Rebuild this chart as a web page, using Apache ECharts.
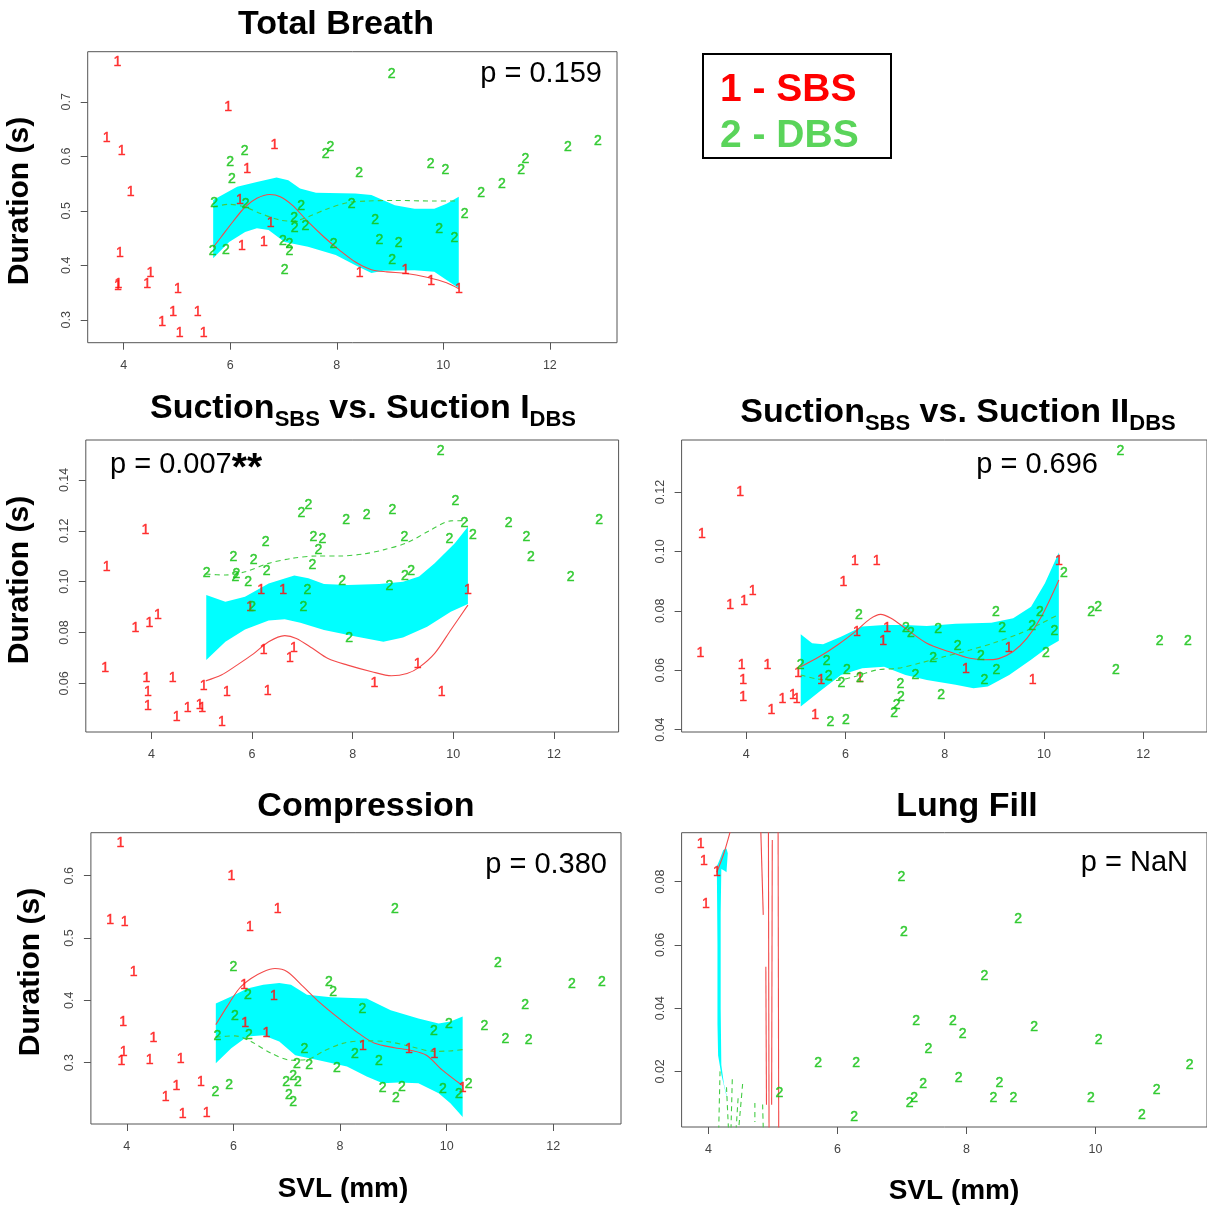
<!DOCTYPE html>
<html><head><meta charset="utf-8">
<script src="https://cdn.jsdelivr.net/npm/echarts@6/dist/echarts.min.js"></script>
<style>html,body{margin:0;padding:0;background:#fff}#c{width:1207px;height:1207px}</style>
</head><body><div id="c"></div>
<script>
// ---------- Total Breath ----------
const tbSBS = [[3.88,0.772],[5.96,0.690],[3.68,0.634],[3.96,0.609],[6.83,0.620],[6.32,0.576],[4.13,0.534],[6.18,0.519],[6.76,0.477],[3.93,0.422],[6.22,0.436],[6.63,0.443],[4.50,0.386],[3.90,0.366],[3.89,0.362],[4.44,0.366],[5.02,0.356],[4.93,0.314],[5.39,0.314],[4.72,0.296],[5.05,0.276],[5.50,0.275],[8.43,0.386],[9.29,0.391],[9.77,0.371],[10.29,0.357]];
const tbDBS = [[9.03,0.750],[6.27,0.609],[6.00,0.590],[6.03,0.558],[7.88,0.616],[7.79,0.604],[8.42,0.569],[9.76,0.586],[10.04,0.575],[12.90,0.628],[12.34,0.616],[11.54,0.595],[11.46,0.575],[11.10,0.549],[10.71,0.533],[10.40,0.494],[5.70,0.515],[6.29,0.513],[7.33,0.509],[8.28,0.512],[7.20,0.486],[7.21,0.469],[7.41,0.472],[8.72,0.482],[9.92,0.467],[5.67,0.426],[5.92,0.427],[6.99,0.444],[7.11,0.439],[7.11,0.426],[7.94,0.439],[8.80,0.447],[9.16,0.441],[10.21,0.449],[9.04,0.409],[7.02,0.391]];
const tbSbsFit = [[5.68,0.433],[5.83,0.452],[6.05,0.480],[6.28,0.507],[6.50,0.523],[6.74,0.530],[6.94,0.526],[7.17,0.510],[7.46,0.480],[7.76,0.452],[8.05,0.428],[8.35,0.406],[8.65,0.392],[8.94,0.388],[9.31,0.385],[9.69,0.378],[10.06,0.368],[10.29,0.357]];
const tbDbsFit = [[5.68,0.507],[5.98,0.512],[6.28,0.507],[6.57,0.495],[6.94,0.483],[7.17,0.481],[7.46,0.489],[7.83,0.504],[8.20,0.515],[8.57,0.518],[9.09,0.519],[9.83,0.518],[10.28,0.518]];
const tbBandUpper = [[5.68,0.520],[6.13,0.544],[6.50,0.553],[6.87,0.561],[7.09,0.556],[7.31,0.541],[7.61,0.533],[8.35,0.532],[8.65,0.529],[9.09,0.510],[9.46,0.504],[9.83,0.504],[10.06,0.513],[10.29,0.526]];
const tbBandLower = [[5.68,0.413],[5.98,0.443],[6.28,0.461],[6.50,0.468],[6.72,0.465],[7.02,0.443],[7.46,0.434],[7.98,0.419],[8.35,0.400],[8.65,0.386],[8.87,0.390],[9.46,0.391],[9.83,0.388],[10.06,0.373],[10.29,0.358]];

// ---------- Suction SBS vs Suction I DBS ----------
const s1SBS = [[3.88,0.1201],[3.11,0.1059],[3.68,0.0819],[3.96,0.0836],[4.13,0.0869],[3.08,0.0660],[3.90,0.0620],[4.42,0.0620],[3.93,0.0565],[3.93,0.0510],[5.04,0.0590],[5.50,0.0565],[6.31,0.0571],[4.50,0.0469],[4.72,0.0502],[4.96,0.0515],[5.01,0.0502],[5.40,0.0449],[6.18,0.0966],[6.62,0.0966],[5.96,0.0899],[6.23,0.0730],[6.83,0.0738],[6.75,0.0701],[8.43,0.0600],[9.29,0.0675],[9.77,0.0565],[10.29,0.0966]];
const s1DBS = [[9.75,0.1514],[10.04,0.1317],[7.12,0.1299],[6.98,0.1271],[7.87,0.1241],[8.28,0.1261],[8.79,0.1283],[10.22,0.1230],[11.10,0.1230],[12.90,0.1240],[10.39,0.1184],[11.45,0.1177],[11.54,0.1098],[12.33,0.1018],[9.92,0.1167],[9.03,0.1177],[7.22,0.1177],[7.40,0.1169],[7.32,0.1125],[6.27,0.1156],[5.63,0.1098],[6.03,0.1083],[7.20,0.1066],[6.29,0.1042],[5.10,0.1033],[5.69,0.1029],[5.67,0.1016],[5.92,0.1000],[9.16,0.1043],[9.04,0.1020],[7.79,0.1003],[7.10,0.0967],[8.73,0.0983],[6.00,0.0898],[7.02,0.0898],[7.93,0.0777]];
const s1SbsFit = [[5.08,0.0610],[5.39,0.0633],[5.70,0.0672],[6.02,0.0715],[6.33,0.0764],[6.65,0.0788],[6.88,0.0777],[7.20,0.0738],[7.51,0.0698],[7.90,0.0672],[8.38,0.0646],[8.77,0.0630],[9.08,0.0639],[9.32,0.0663],[9.63,0.0718],[9.95,0.0810],[10.29,0.0908]];
const s1DbsFit = [[5.08,0.1030],[5.47,0.1026],[5.86,0.1039],[6.33,0.1072],[6.80,0.1092],[7.28,0.1101],[7.75,0.1101],[8.22,0.1109],[8.61,0.1125],[9.08,0.1153],[9.55,0.1203],[9.95,0.1239],[10.29,0.1240]];
const s1BandUpper = [[5.09,0.0948],[5.47,0.0921],[5.86,0.0941],[6.33,0.0993],[6.84,0.1024],[7.12,0.1013],[7.43,0.0991],[7.90,0.0987],[8.53,0.0991],[9.00,0.1000],[9.32,0.1020],[9.63,0.1072],[10.03,0.1151],[10.29,0.1216]];
const s1BandLower = [[5.09,0.0692],[5.47,0.0764],[5.86,0.0812],[6.33,0.0847],[6.65,0.0852],[6.96,0.0839],[7.43,0.0810],[8.06,0.0784],[8.61,0.0764],[9.00,0.0781],[9.48,0.0823],[9.95,0.0882],[10.29,0.0912]];

// ---------- Suction SBS vs Suction II DBS ----------
const s2SBS = [[3.88,0.1200],[3.11,0.1059],[3.68,0.0820],[3.96,0.0833],[4.13,0.0867],[3.08,0.0659],[3.91,0.0617],[4.43,0.0617],[3.94,0.0567],[3.94,0.0509],[4.51,0.0466],[4.73,0.0502],[4.94,0.0517],[5.02,0.0502],[5.05,0.0590],[5.39,0.0450],[5.51,0.0567],[6.19,0.0968],[6.63,0.0968],[5.96,0.0898],[6.23,0.0728],[6.84,0.0740],[6.76,0.0699],[6.29,0.0573],[8.43,0.0603],[9.29,0.0673],[9.77,0.0567],[10.30,0.0968]];
const s2DBS = [[11.54,0.1338],[10.40,0.0926],[10.95,0.0797],[11.09,0.0814],[12.33,0.0698],[12.90,0.0698],[11.45,0.0600],[9.03,0.0797],[9.92,0.0797],[9.16,0.0741],[9.76,0.0747],[10.21,0.0731],[10.04,0.0658],[6.27,0.0784],[7.22,0.0740],[7.32,0.0724],[7.87,0.0738],[8.26,0.0682],[7.77,0.0640],[8.73,0.0646],[9.04,0.0601],[8.80,0.0565],[7.41,0.0583],[5.10,0.0617],[5.62,0.0631],[5.66,0.0581],[6.03,0.0600],[5.92,0.0555],[6.29,0.0573],[7.11,0.0553],[7.12,0.0511],[7.03,0.0483],[6.98,0.0455],[7.93,0.0517],[5.70,0.0425],[6.01,0.0431]];
const s2SbsFit = [[5.08,0.0610],[5.48,0.0646],[5.84,0.0685],[6.20,0.0730],[6.49,0.0772],[6.71,0.0788],[6.92,0.0775],[7.21,0.0741],[7.64,0.0691],[8.08,0.0663],[8.51,0.0640],[8.80,0.0635],[9.09,0.0639],[9.38,0.0663],[9.66,0.0708],[9.95,0.0781],[10.30,0.0904]];
const s2DbsFit = [[5.10,0.0584],[5.41,0.0571],[5.77,0.0565],[6.20,0.0579],[6.63,0.0601],[7.07,0.0607],[7.50,0.0624],[8.00,0.0646],[8.51,0.0668],[9.01,0.0693],[9.52,0.0724],[9.95,0.0758],[10.30,0.0788]];
const s2BandUpper = [[5.10,0.0721],[5.33,0.0691],[5.55,0.0687],[5.91,0.0713],[6.34,0.0747],[6.78,0.0752],[7.21,0.0752],[7.64,0.0749],[8.22,0.0756],[8.94,0.0760],[9.38,0.0775],[9.74,0.0814],[10.02,0.0893],[10.30,0.0996]];
const s2BandLower = [[5.10,0.0478],[5.48,0.0528],[5.91,0.0584],[6.34,0.0607],[6.78,0.0612],[7.21,0.0584],[7.64,0.0567],[8.22,0.0551],[8.58,0.0539],[8.87,0.0545],[9.30,0.0584],[9.74,0.0635],[10.10,0.0680],[10.30,0.0699]];

// ---------- Compression ----------
const cpSBS = [[3.88,0.652],[5.96,0.600],[3.69,0.528],[3.96,0.526],[6.83,0.546],[6.31,0.518],[4.13,0.446],[6.20,0.425],[6.76,0.406],[3.93,0.365],[6.22,0.364],[4.50,0.339],[6.62,0.347],[3.94,0.317],[3.90,0.303],[4.43,0.304],[5.01,0.305],[4.93,0.263],[5.39,0.269],[4.73,0.245],[5.05,0.218],[5.50,0.219],[8.43,0.326],[9.29,0.321],[9.77,0.313],[10.30,0.259]];
const cpDBS = [[9.03,0.546],[6.00,0.454],[10.96,0.459],[12.35,0.426],[12.91,0.429],[11.47,0.392],[7.79,0.430],[7.87,0.413],[6.27,0.409],[8.42,0.386],[6.03,0.374],[10.71,0.359],[10.04,0.362],[9.76,0.351],[5.70,0.342],[6.29,0.344],[11.10,0.338],[11.54,0.336],[7.33,0.322],[8.28,0.314],[8.73,0.303],[7.19,0.297],[7.42,0.296],[7.94,0.292],[7.12,0.279],[6.99,0.268],[7.21,0.268],[7.04,0.248],[7.12,0.236],[5.92,0.264],[5.66,0.253],[8.80,0.259],[9.16,0.260],[9.05,0.243],[9.93,0.257],[10.23,0.250],[10.41,0.266]];
const cpSbsFit = [[5.67,0.361],[5.88,0.390],[6.11,0.419],[6.33,0.435],[6.56,0.446],[6.78,0.451],[7.01,0.446],[7.31,0.422],[7.60,0.398],[7.98,0.371],[8.35,0.347],[8.65,0.331],[9.02,0.324],[9.32,0.320],[9.62,0.312],[9.92,0.288],[10.30,0.263]];
const cpDbsFit = [[5.67,0.341],[6.03,0.343],[6.33,0.334],[6.71,0.315],[7.08,0.304],[7.38,0.305],[7.68,0.318],[8.05,0.331],[8.43,0.335],[8.87,0.334],[9.32,0.326],[9.77,0.318],[10.07,0.319],[10.30,0.321]];
const cpBandUpper = [[5.67,0.395],[5.96,0.406],[6.26,0.419],[6.56,0.425],[6.86,0.428],[7.08,0.425],[7.38,0.409],[7.83,0.405],[8.50,0.403],[8.95,0.384],[9.47,0.371],[9.85,0.363],[10.07,0.366],[10.30,0.374]];
const cpBandLower = [[5.67,0.299],[5.96,0.323],[6.26,0.342],[6.56,0.344],[6.86,0.334],[7.16,0.312],[7.60,0.304],[8.13,0.294],[8.50,0.278],[8.80,0.267],[9.10,0.268],[9.47,0.267],[9.85,0.251],[10.07,0.235],[10.30,0.213]];

// ---------- Lung Fill ----------
const lfSBS = [[3.88,0.0918],[3.93,0.0865],[4.13,0.0830],[3.96,0.0729]];
const lfDBS = [[6.99,0.0813],[8.80,0.0682],[7.03,0.0640],[8.28,0.0501],[7.22,0.0358],[7.79,0.0358],[7.94,0.0319],[9.05,0.0339],[10.05,0.0299],[7.41,0.0269],[5.70,0.0225],[6.29,0.0225],[11.46,0.0219],[7.88,0.0179],[8.51,0.0163],[7.33,0.0159],[10.95,0.0141],[5.10,0.0131],[7.19,0.0115],[7.12,0.0099],[8.42,0.0115],[8.73,0.0115],[9.93,0.0115],[6.26,0.0055],[10.72,0.0060]];
const lfSbsFitSegments = [
  [[4.13,0.0830],[4.24,0.0890],[4.36,0.0975]],
  [[4.81,0.0975],[4.85,0.0695]],
  [[4.89,0.0531],[4.90,0.0094]],
  [[4.93,0.0975],[4.94,0.0000]],
  [[4.99,0.0932],[4.98,0.0094]],
  [[5.08,0.0975],[5.09,0.0000]]
];
const lfDbsFitSegments = [
  [[4.18,0.0200],[4.16,0.0020]],[[4.28,0.0150],[4.31,0.0020]],[[4.37,0.0175],[4.35,0.0020]],
  [[4.46,0.0115],[4.43,0.0020]],[[4.53,0.0160],[4.47,0.0020]],[[4.72,0.0100],[4.72,0.0040]],[[4.84,0.0095],[4.85,0.0020]]
];
const lfBandOutline = [[4.13,0.0848],[4.17,0.0868],[4.23,0.0900],[4.28,0.0905],[4.30,0.0890],[4.28,0.0830],[4.25,0.0835],[4.20,0.0840],[4.19,0.0700],[4.19,0.0400],[4.20,0.0220],[4.24,0.0160],[4.30,0.0110],[4.27,0.0130],[4.20,0.0190],[4.15,0.0250],[4.14,0.0350],[4.14,0.0600]];

// ---------- tick values ----------
const xTicks = [4, 6, 8, 10, 12];
const xTicksLung = [4, 6, 8, 10];
const yTicksTB = [0.3, 0.4, 0.5, 0.6, 0.7];
const yTicksS1 = [0.06, 0.08, 0.10, 0.12, 0.14];
const yTicksS2 = [0.04, 0.06, 0.08, 0.10, 0.12];
const yTicksCP = [0.3, 0.4, 0.5, 0.6];
const yTicksLF = [0.02, 0.04, 0.06, 0.08];

const F = "'Liberation Sans', Arial, Helvetica, sans-serif";
const RED = '#ff1010', GREEN = '#17c317', REDLINE = '#f34a4a', GREENLINE = '#44cc44';

const panels = [
  {grid:{left:87.7, top:51.7, width:529.3, height:291}, xr:[3.325,13.26], yr:[0.258,0.792], xt:xTicks, yt:yTicksTB, dec:1,
   sbs:tbSBS, dbs:tbDBS, sbsFit:[tbSbsFit], dbsFit:[tbDbsFit], band:tbBandUpper.concat(tbBandLower.slice().reverse())},
  {grid:{left:85.8, top:440, width:532.8, height:292}, xr:[2.696,13.285], yr:[0.0409,0.1557], xt:xTicks, yt:yTicksS1, dec:2,
   sbs:s1SBS, dbs:s1DBS, sbsFit:[s1SbsFit], dbsFit:[s1DbsFit], band:s1BandUpper.concat(s1BandLower.slice().reverse())},
  {grid:{left:681.6, top:440, width:530.8, height:292}, xr:[2.70,13.285], yr:[0.0392,0.1375], xt:xTicks, yt:yTicksS2, dec:2,
   sbs:s2SBS, dbs:s2DBS, sbsFit:[s2SbsFit], dbsFit:[s2DbsFit], band:s2BandUpper.concat(s2BandLower.slice().reverse())},
  {grid:{left:90.9, top:832.7, width:530.1, height:291.3}, xr:[3.327,13.27], yr:[0.2016,0.669], xt:xTicks, yt:yTicksCP, dec:1,
   sbs:cpSBS, dbs:cpDBS, sbsFit:[cpSbsFit], dbsFit:[cpDbsFit], band:cpBandUpper.concat(cpBandLower.slice().reverse())},
  {grid:{left:681.6, top:832.7, width:530.9, height:294.3}, xr:[3.584,11.73], yr:[0.0024,0.0955], xt:xTicksLung, yt:yTicksLF, dec:2,
   sbs:lfSBS, dbs:lfDBS, sbsFit:lfSbsFitSegments, dbsFit:lfDbsFitSegments, band:lfBandOutline}
];

const grids = [], xAxes = [], yAxes = [], series = [];
panels.forEach((p, i) => {
  grids.push(Object.assign({show:true, borderColor:'#555', borderWidth:1, backgroundColor:'transparent'}, p.grid));
  xAxes.push({gridIndex:i, type:'value', min:p.xr[0], max:p.xr[1],
    axisLine:{show:false, onZero:false},
    axisTick:{show:true, length:7, lineStyle:{color:'#555'}, customValues:p.xt},
    axisLabel:{customValues:p.xt, color:'#444', fontSize:12.5, fontFamily:F, margin:16, formatter:v=>String(v)},
    splitLine:{show:false}});
  yAxes.push({gridIndex:i, type:'value', min:p.yr[0], max:p.yr[1],
    axisLine:{show:false, onZero:false},
    axisTick:{show:true, length:7, lineStyle:{color:'#555'}, customValues:p.yt},
    axisLabel:{customValues:p.yt, color:'#444', fontSize:12.5, fontFamily:F, margin:15, rotate:90, formatter:v=>(+v).toFixed(p.dec)},
    splitLine:{show:false}});
  const poly = p.band;
  series.push({type:'custom', xAxisIndex:i, yAxisIndex:i, clip:true, silent:true, z:1,
    data:[poly[0]],
    renderItem:(params, api) => ({type:'polygon', shape:{points:poly.map(q => api.coord(q))}, style:{fill:'#00ffff'}})});
  p.sbsFit.forEach(seg => series.push({type:'line', xAxisIndex:i, yAxisIndex:i, data:seg, symbol:'none', smooth:0.3, z:3,
    lineStyle:{color:REDLINE, width:1.1}}));
  p.dbsFit.forEach(seg => series.push({type:'line', xAxisIndex:i, yAxisIndex:i, data:seg, symbol:'none', smooth:0.3, z:3,
    lineStyle:{color:GREENLINE, width:1.1, type:[5,4]}}));
  [[p.sbs,'1',RED],[p.dbs,'2',GREEN]].forEach(([d,t,c]) => series.push({type:'scatter', xAxisIndex:i, yAxisIndex:i, data:d,
    symbol:'circle', symbolSize:1, itemStyle:{color:'rgba(0,0,0,0)'}, z:4, silent:true,
    label:{show:true, position:'inside', formatter:t, color:c, fontSize:14, fontFamily:F, textBorderColor:c, textBorderWidth:0.5}}));
});

const bold = (s) => ({fontSize:s, fontWeight:'bold', fontFamily:F, fill:'#000'});
const txt = (x, y, text, size, opts) => Object.assign({type:'text', x, y, style:Object.assign({text, font:`${opts&&opts.weight||'bold'} ${size}px ${F}`, fill:'#000', align:'center', verticalAlign:'middle'}, opts&&opts.style||{})}, opts&&opts.el||{});
const subTitle = (x, y, a, b) => ({type:'text', x, y, style:{text:`{m|Suction}{s|SBS}{m| vs. Suction ${a}}{s|${b}}`, align:'center', verticalAlign:'middle',
  rich:{m:Object.assign(bold(34),{lineHeight:40}), s:Object.assign(bold(22),{lineHeight:22, padding:[21,0,0,0]})}}});

const graphics = [
  txt(336, 25, 'Total Breath', 34),
  subTitle(363, 409, 'I', 'DBS'),
  subTitle(958, 413, 'II', 'DBS'),
  txt(366, 807, 'Compression', 34),
  txt(967, 807, 'Lung Fill', 34),
  txt(20, 201, 'Duration (s)', 30, {el:{rotation:Math.PI/2}}),
  txt(20, 580, 'Duration (s)', 30, {el:{rotation:Math.PI/2}}),
  txt(31, 972, 'Duration (s)', 30, {el:{rotation:Math.PI/2}}),
  txt(343, 1189, 'SVL (mm)', 28),
  txt(954, 1191, 'SVL (mm)', 28),
  txt(602, 74, 'p = 0.159', 29, {weight:'normal', style:{align:'right'}}),
  {type:'text', x:110, y:465, style:{text:'{n|p = 0.007}{a|**}', align:'left', verticalAlign:'middle',
    rich:{n:{fontSize:29, fontFamily:F, fill:'#000', lineHeight:34}, a:{fontSize:39, fontWeight:'bold', fontFamily:F, fill:'#000', lineHeight:34, padding:[8,0,0,0]}}}},
  txt(1098, 465, 'p = 0.696', 29, {weight:'normal', style:{align:'right'}}),
  txt(607, 865, 'p = 0.380', 29, {weight:'normal', style:{align:'right'}}),
  txt(1188, 863, 'p = NaN', 29, {weight:'normal', style:{align:'right'}}),
  {type:'rect', shape:{x:703, y:54, width:188, height:104}, style:{fill:'#fff', stroke:'#000', lineWidth:2}},
  txt(720, 90, '1 - SBS', 39, {style:{align:'left', fill:'#ff0000'}}),
  txt(720, 136, '2 - DBS', 39, {style:{align:'left', fill:'#5ad45a'}})
];

const chart = echarts.init(document.getElementById('c'), null, {renderer:'canvas'});
chart.setOption({animation:false, backgroundColor:'#fff', grid:grids, xAxis:xAxes, yAxis:yAxes, series, graphic:{elements:graphics}});
</script></body></html>
